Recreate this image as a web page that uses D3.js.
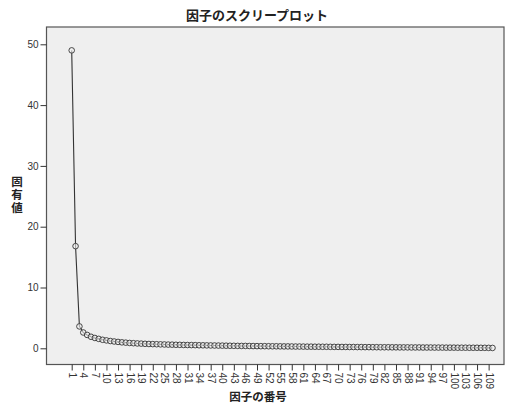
<!DOCTYPE html>
<html>
<head>
<meta charset="utf-8">
<script src="https://cdn.jsdelivr.net/npm/d3@7"></script>
<style>
  body { margin: 0; background: #fff; }
  text { font-family: "Liberation Sans", Arial, sans-serif; }
  .cjk { font-family: "Noto Sans CJK JP", sans-serif; font-weight: bold; }
</style>
</head>
<body>
<svg id="chart" width="505" height="405"></svg>
<script>
// eigenvalues per factor
const eigenvalues = [
    49.0, 16.8, 3.6, 2.6, 2.2, 1.9, 1.7, 1.55, 1.4, 1.3,
    1.2, 1.12, 1.05, 0.98, 0.93, 0.88, 0.84, 0.8, 0.77, 0.74,
    0.71, 0.69, 0.67, 0.65, 0.63, 0.61, 0.60, 0.58, 0.57, 0.55,
    0.54, 0.53, 0.52, 0.50, 0.49, 0.48, 0.47, 0.46, 0.45, 0.44,
    0.43, 0.42, 0.41, 0.40, 0.39, 0.39, 0.38, 0.37, 0.36, 0.35,
    0.35, 0.34, 0.33, 0.33, 0.32, 0.31, 0.31, 0.30, 0.29, 0.29,
    0.28, 0.27, 0.27, 0.26, 0.26, 0.25, 0.25, 0.24, 0.23, 0.23,
    0.22, 0.22, 0.21, 0.21, 0.20, 0.20, 0.19, 0.19, 0.18, 0.18,
    0.17, 0.17, 0.17, 0.16, 0.16, 0.15, 0.15, 0.15, 0.14, 0.14,
    0.14, 0.13, 0.13, 0.13, 0.12, 0.12, 0.12, 0.11, 0.11, 0.11,
    0.10, 0.10, 0.10, 0.09, 0.09, 0.09, 0.08, 0.08, 0.07, 0.06
];
const factors = eigenvalues.map((v, i) => i + 1);
const xTicks = factors.filter(f => (f - 1) % 3 === 0);
const yTicks = [0, 10, 20, 30, 40, 50];

const title = "因子のスクリープロット";
const xLabel = "因子の番号";
const yLabel = "固有値";

const plot = { left: 46.5, top: 27, right: 504, bottom: 364.5 };

const svg = d3.select("#chart");

const x = d3.scaleLinear().domain([1, 110]).range([71.7, 492.5]);
const y = d3.scaleLinear().domain([0, 50]).range([348.3, 44.3]);

// plot background + frame
svg.append("rect")
    .attr("x", plot.left)
    .attr("y", plot.top)
    .attr("width", plot.right - plot.left)
    .attr("height", plot.bottom - plot.top)
    .attr("fill", "#efefef")
    .attr("stroke", "#555")
    .attr("stroke-width", 1.2);

// y axis
const yAxis = svg.append("g")
    .attr("transform", "translate(" + plot.left + ",0)")
    .call(d3.axisLeft(y).tickValues(yTicks).tickSize(6).tickPadding(2));
yAxis.select(".domain").remove();
yAxis.selectAll("line").attr("stroke", "#333");
yAxis.selectAll("text")
    .attr("fill", "#333")
    .style("font-size", "10px");

// x axis
const xAxis = svg.append("g")
    .attr("transform", "translate(0," + plot.bottom + ")")
    .call(d3.axisBottom(x).tickValues(xTicks).tickSize(6).tickFormat(d3.format("d")));
xAxis.select(".domain").remove();
xAxis.selectAll("line").attr("stroke", "#333");
xAxis.selectAll("text")
    .attr("fill", "#333")
    .style("font-size", "10px")
    .attr("text-anchor", "start")
    .attr("x", 0)
    .attr("y", 0)
    .attr("dy", "0.35em")
    .attr("transform", "translate(0,8) rotate(90)");

// line
const line = d3.line()
    .x((d, i) => x(factors[i]))
    .y(d => y(d));

svg.append("path")
    .datum(eigenvalues)
    .attr("d", line)
    .attr("fill", "none")
    .attr("stroke", "#333")
    .attr("stroke-width", 1.1);

svg.append("g")
    .selectAll("circle")
    .data(eigenvalues)
    .enter()
    .append("circle")
    .attr("cx", (d, i) => x(factors[i]))
    .attr("cy", d => y(d))
    .attr("r", 2.8)
    .attr("fill", "#f4f4f4")
    .attr("fill-opacity", 0.6)
    .attr("stroke", "#333")
    .attr("stroke-width", 0.9);

// title and axis labels
svg.append("text")
    .attr("class", "cjk")
    .attr("x", 257)
    .attr("y", 20)
    .attr("text-anchor", "middle")
    .style("font-size", "13px")
    .attr("fill", "#222")
    .text(title);

svg.append("text")
    .attr("class", "cjk")
    .attr("x", 258)
    .attr("y", 401)
    .attr("text-anchor", "middle")
    .style("font-size", "11.5px")
    .attr("fill", "#222")
    .text(xLabel);

// vertical y label, one text element written top to bottom
svg.append("text")
    .attr("class", "cjk")
    .attr("x", 17)
    .attr("y", 176)
    .style("writing-mode", "vertical-rl")
    .style("text-orientation", "upright")
    .style("letter-spacing", "1.5px")
    .style("font-size", "11.5px")
    .attr("fill", "#222")
    .text(yLabel);
</script>
</body>
</html>
